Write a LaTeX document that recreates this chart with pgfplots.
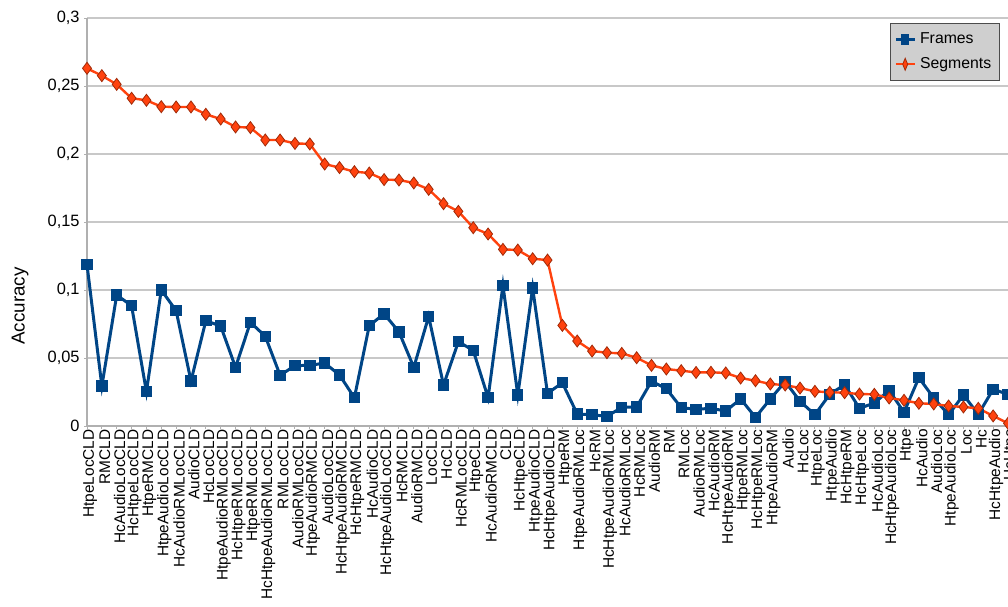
\documentclass[border=0pt]{standalone}
\usepackage{pgfplots}
\pgfplotsset{compat=1.18}
\usepackage{fontspec}
\setmainfont{Liberation Sans}

\definecolor{frames}{HTML}{004586}
\definecolor{segs}{HTML}{FF420E}
\definecolor{segedge}{HTML}{A02A08}
\definecolor{gridc}{HTML}{C8C8C8}
\definecolor{axc}{HTML}{B0B0B0}
\definecolor{legbg}{HTML}{CFCFCF}

\begin{document}
\begin{tikzpicture}
  \begin{axis}[
      name=ax,
      scale only axis,
      width=460.5pt, height=204pt,
      xmin=0, xmax=62,
      ymin=0, ymax=0.3,
      axis lines*=left,
      axis line style={axc, line width=0.6pt},
      clip=false,
      ymajorgrids,
      grid style={gridc, line width=0.6pt},
      xtick={0,...,62},
      xticklabels={HtpeLocCLD,RMCLD,HcAudioLocCLD,HcHtpeLocCLD,HtpeRMCLD,
        HtpeAudioLocCLD,HcAudioRMLocCLD,AudioCLD,HcLocCLD,HtpeAudioRMLocCLD,
        HcHtpeRMLocCLD,HtpeRMLocCLD,HcHtpeAudioRMLocCLD,RMLocCLD,AudioRMLocCLD,
        HtpeAudioRMCLD,AudioLocCLD,HcHtpeAudioRMCLD,HcHtpeRMCLD,HcAudioCLD,
        HcHtpeAudioLocCLD,HcRMCLD,AudioRMCLD,LocCLD,HcCLD,HcRMLocCLD,HtpeCLD,
        HcAudioRMCLD,CLD,HcHtpeCLD,HtpeAudioCLD,HcHtpeAudioCLD,HtpeRM,
        HtpeAudioRMLoc,HcRM,HcHtpeAudioRMLoc,HcAudioRMLoc,HcRMLoc,AudioRM,RM,
        RMLoc,AudioRMLoc,HcAudioRM,HcHtpeAudioRM,HtpeRMLoc,HcHtpeRMLoc,
        HtpeAudioRM,Audio,HcLoc,HtpeLoc,HtpeAudio,HcHtpeRM,HcHtpeLoc,
        HcAudioLoc,HcHtpeAudioLoc,Htpe,HcAudio,AudioLoc,HtpeAudioLoc,Loc,Hc,
        HcHtpeAudio,HcHtpe},
      xticklabel style={rotate=90, anchor=east, inner sep=0pt, yshift=-1.5pt,
        font=\fontsize{7.7}{8}\selectfont},
      ytick={0,0.05,0.1,0.15,0.2,0.25,0.3},
      yticklabels={0,{0,05},{0,1},{0,15},{0,2},{0,25},{0,3}},
      yticklabel style={anchor=east, inner sep=0pt, xshift=-2pt,
        font=\fontsize{8.2}{9}\selectfont},
      tick align=outside,
      major tick length=1.5pt,
      tick style={axc, line width=0.5pt},
      ylabel={Accuracy},
      ylabel style={at={(axis description cs:-0.0727,0.294)}, anchor=center,
        font=\fontsize{9.4}{10}\selectfont},
      legend style={at={(0.991,0.988)}, anchor=north east,
        fill=legbg, draw=black!70, line width=0.5pt,
        font=\fontsize{7.9}{9}\selectfont,
        inner xsep=2pt, inner ysep=2.5pt, row sep=1.5pt},
      legend cell align=left,
      legend image post style={xscale=0.55},
    ]

    \addplot[frames, line width=1.5pt, mark=square*,
      mark options={solid, fill=frames, draw=frames, scale=1.05}]
      coordinates {
      (0,0.1186) (1,0.0294) (2,0.0963) (3,0.0885) (4,0.0252) (5,0.1000)
      (6,0.0848) (7,0.0331) (8,0.0774) (9,0.0735) (10,0.0431) (11,0.0762)
      (12,0.0660) (13,0.0373) (14,0.0444) (15,0.0446) (16,0.0463) (17,0.0375)
      (18,0.0208) (19,0.0738) (20,0.0825) (21,0.0692) (22,0.0431) (23,0.0806)
      (24,0.0301) (25,0.0620) (26,0.0556) (27,0.0208) (28,0.1034) (29,0.0228)
      (30,0.1015) (31,0.0240) (32,0.0318) (33,0.0088) (34,0.0083) (35,0.0071)
      (36,0.0137) (37,0.0140) (38,0.0329) (39,0.0274) (40,0.0135) (41,0.0123)
      (42,0.0130) (43,0.0110) (44,0.0199) (45,0.0064) (46,0.0199) (47,0.0326)
      (48,0.0182) (49,0.0083) (50,0.0233) (51,0.0304) (52,0.0130) (53,0.0169)
      (54,0.0262) (55,0.0101) (56,0.0355) (57,0.0206) (58,0.0083) (59,0.0228)
      (60,0.0086) (61,0.0270) (62,0.0233)
    };
    \addlegendentry{Frames}

    \addplot[segs, line width=1.2pt, mark=diamond*,
      mark options={solid, fill=segs, draw=segedge, line width=0.4pt, scale=1.5}]
      coordinates {
      (0,0.2630) (1,0.2576) (2,0.2512) (3,0.2410) (4,0.2395) (5,0.2348)
      (6,0.2346) (7,0.2346) (8,0.2292) (9,0.2257) (10,0.2199) (11,0.2194)
      (12,0.2103) (13,0.2103) (14,0.2078) (15,0.2074) (16,0.1926) (17,0.1900)
      (18,0.1870) (19,0.1860) (20,0.1812) (21,0.1809) (22,0.1787) (23,0.1740)
      (24,0.1635) (25,0.1578) (26,0.1458) (27,0.1412) (28,0.1299) (29,0.1294)
      (30,0.1230) (31,0.1220) (32,0.0740) (33,0.0625) (34,0.0551) (35,0.0539)
      (36,0.0534) (37,0.0502) (38,0.0446) (39,0.0419) (40,0.0407) (41,0.0394)
      (42,0.0395) (43,0.0390) (44,0.0353) (45,0.0333) (46,0.0309) (47,0.0301)
      (48,0.0279) (49,0.0255) (50,0.0248) (51,0.0245) (52,0.0235) (53,0.0233)
      (54,0.0206) (55,0.0189) (56,0.0167) (57,0.0162) (58,0.0147) (59,0.0140)
      (60,0.0130) (61,0.0074) (62,0.0020)
    };
    \addlegendentry{Segments}
  \end{axis}
  % the reference is cut off at the right edge of the plot area
  \pgfresetboundingbox
  \path[use as bounding box] ([xshift=-43.5pt,yshift=-90pt]ax.south west)
    rectangle ([yshift=9pt]ax.north east);
\end{tikzpicture}
\end{document}
